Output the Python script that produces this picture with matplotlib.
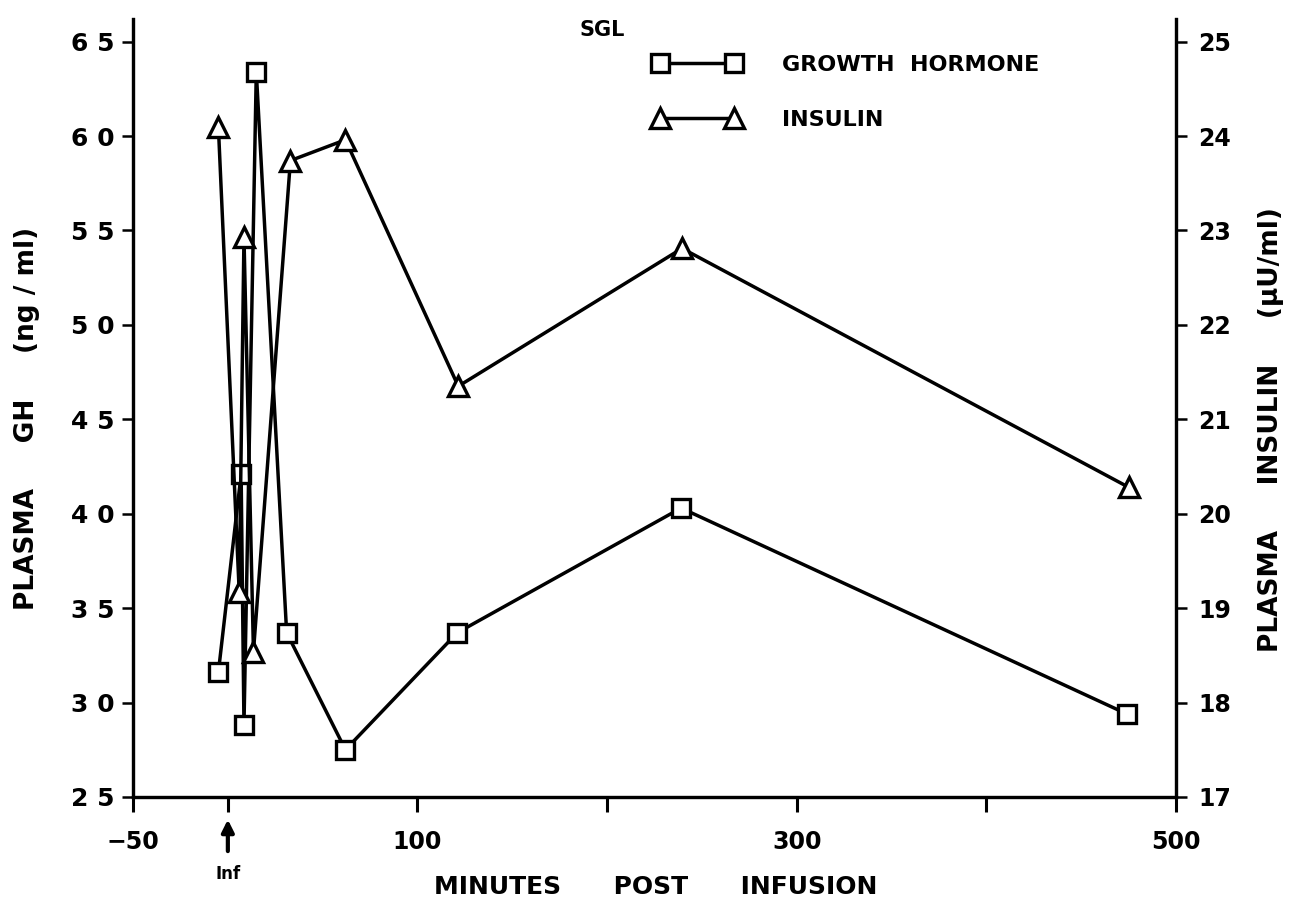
import matplotlib
matplotlib.use("Agg")
from matplotlib import pyplot as plt

# SGL: plasma growth hormone and insulin after infusion
minutos_gh = [-5, 7, 8.5, 15, 31, 62, 121, 239, 474]
gh = [31.6, 42.1, 28.8, 63.4, 33.7, 27.5, 33.7, 40.3, 29.4]

minutos_ins = [-5, 6, 8.5, 13.5, 33, 62, 121.5, 239.5, 475]
insulina = [24.1, 19.17, 22.93, 18.54, 23.74, 23.96, 21.35, 22.81, 20.28]

ticks_x = [-50, 0, 100, 200, 300, 400, 500]
etiquetas_x = ['\u221250', '', '100', '', '300', '', '500']
ticks_gh = list(range(25, 70, 5))
ticks_ins = list(range(17, 26))

plt.rcParams['font.family'] = ['DejaVu Sans']
plt.rcParams['font.weight'] = 'bold'

fig = plt.figure(figsize=(12.89, 9.07), dpi=100)
ax = fig.add_axes([0.1032, 0.1213, 0.8092, 0.8578])
ax2 = ax.twinx()

linea = dict(color='black', lw=2.5, markerfacecolor='white',
             markeredgecolor='black', markeredgewidth=2.4)
ax.plot(minutos_gh, gh, marker='s', markersize=13, label='GROWTH  HORMONE', **linea)
ax2.plot(minutos_ins, insulina, marker='^', markersize=15, label='INSULIN', **linea)

ax.set_xlim(-50, 500)
ax.set_ylim(25, 66.2)
ax2.set_ylim(17, 25.24)

for a in (ax, ax2):
    a.spines['top'].set_visible(False)
    for s in a.spines.values():
        s.set_linewidth(2.3)

ax.set_xticks(ticks_x)
ax.set_xticklabels(etiquetas_x, fontsize=17, fontweight='bold')
ax.tick_params(axis='x', direction='out', length=11, width=2.2, pad=13)

ax.set_yticks(ticks_gh)
ax.set_yticklabels([f"{v // 10} {v % 10}" for v in ticks_gh], fontsize=18, fontweight='bold')
ax.tick_params(axis='y', direction='out', length=8, width=1.8, pad=5)

ax2.set_yticks(ticks_ins)
ax2.set_yticklabels([str(v) for v in ticks_ins], fontsize=17, fontweight='bold')
ax2.tick_params(axis='y', direction='out', length=8, width=1.8, pad=8)

ax.set_ylabel('PLASMA     GH     (ng / ml)', fontsize=19, fontweight='bold')
ax.yaxis.set_label_coords(-0.0892, 0.487)
ax2.set_ylabel('PLASMA     INSULIN     (\u00b5U/ml)', fontsize=19, fontweight='bold')
ax2.yaxis.set_label_coords(1.0786, 0.472)
ax.set_xlabel('MINUTES      POST      INFUSION', fontsize=18, fontweight='bold')
ax.xaxis.set_label_coords(0.501, -0.100)

# flecha de inicio de la infusion
ax.annotate('Inf', xy=(0, -0.029), xytext=(0, -0.099),
            xycoords=('data', 'axes fraction'), textcoords=('data', 'axes fraction'),
            ha='center', va='center', fontsize=12, fontweight='bold',
            annotation_clip=False,
            arrowprops=dict(arrowstyle='-|>', lw=3, color='black',
                            mutation_scale=18, shrinkA=8, shrinkB=0))

fig.text(602 / 1289, 1 - 30 / 907, 'SGL', ha='center', va='center',
         fontsize=15, fontweight='bold')

h1, l1 = ax.get_legend_handles_labels()
h2, l2 = ax2.get_legend_handles_labels()
ax2.legend(h1 + h2, l1 + l2, loc='upper left', bbox_to_anchor=(653 / 1289, 1 - 55 / 907),
           bbox_transform=fig.transFigure, frameon=False, numpoints=2,
           handlelength=3.96, handletextpad=1.85, labelspacing=1.58, borderpad=0,
           borderaxespad=0, prop=dict(weight='bold', size=16))

fig.savefig('out.png', dpi=100)
